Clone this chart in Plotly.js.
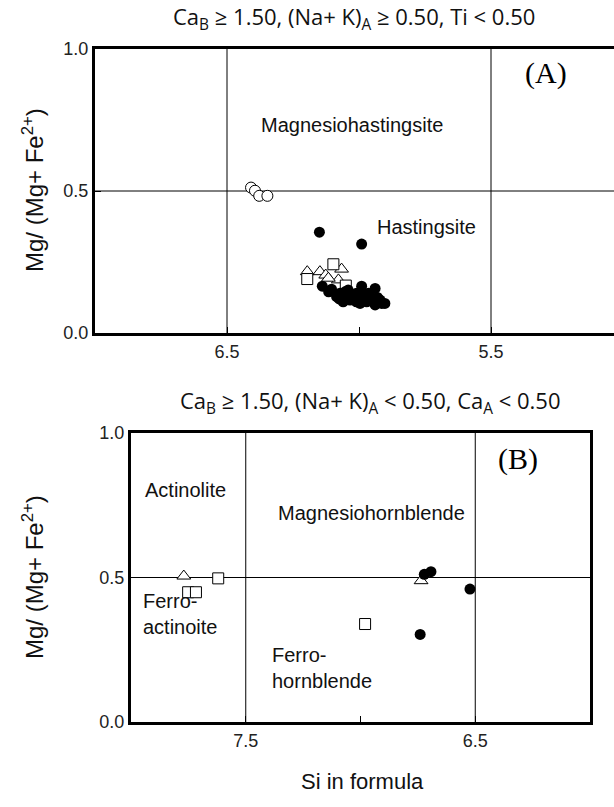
<!DOCTYPE html>
<html>
<head>
<meta charset="utf-8">
<script src="https://cdn.plot.ly/plotly-3.0.1.min.js"></script>
<style>html,body{margin:0;padding:0;background:#fff;}</style>
</head>
<body>
<div id="chart" style="width:614px;height:807px;"></div>
<script>
// Panel A data (Si in formula, Mg/(Mg+Fe2+))
const aOpenCircleSi = [6.409, 6.394, 6.378, 6.347];
const aOpenCircleMg = [0.512, 0.501, 0.483, 0.483];
const aFilledSi = [6.150, 5.990, 6.139, 6.104, 6.072, 6.085, 6.060, 6.041, 6.022, 5.990, 5.984, 5.939, 5.971, 5.939, 5.914, 5.920, 5.996, 6.034, 6.009, 5.958, 5.902, 6.053, 6.115, 6.075, 5.965, 5.945, 6.010, 5.930];
const aFilledMg = [0.355, 0.313, 0.165, 0.154, 0.140, 0.128, 0.110, 0.151, 0.128, 0.165, 0.134, 0.157, 0.110, 0.099, 0.104, 0.116, 0.104, 0.116, 0.140, 0.128, 0.104, 0.145, 0.145, 0.120, 0.140, 0.115, 0.110, 0.125];
const aTriSi = [6.196, 6.148, 6.126, 6.066, 6.078, 6.116];
const aTriMg = [0.216, 0.216, 0.204, 0.225, 0.187, 0.193];
const aSqSi = [6.196, 6.097, 6.050];
const aSqMg = [0.190, 0.242, 0.167];

// Panel B data
const bTriSi = [7.770, 6.736];
const bTriMg = [0.505, 0.489];
const bSqSi = [7.620, 7.751, 7.717, 6.980];
const bSqMg = [0.497, 0.449, 0.449, 0.339];
const bFilledSi = [6.722, 6.693, 6.523, 6.740];
const bFilledMg = [0.511, 0.520, 0.460, 0.303];

// Axis ticks and boundaries
const aTickVals = [6.5, 6.0, 5.5];
const aTickText = ['6.5', '', '5.5'];
const bTickVals = [7.5, 7.0, 6.5];
const bTickText = ['7.5', '', '6.5'];
const yTickVals = [0.0, 0.5, 1.0];
const yTickText = ['0.0', '0.5', '1.0'];
const aSiBounds = [6.5, 5.5];
const bSiBounds = [7.5, 6.5];
const mgBound = 0.5;

const W = 614, H = 807;
const px = v => v / W;
const py = v => 1 - v / H;

const openCircle = {symbol: 'circle', size: 11, color: '#fff', line: {color: '#000', width: 1}};
const filledCircle = {symbol: 'circle', size: 11, color: '#000', line: {color: '#000', width: 0}};
const openTri = {symbol: 'triangle-up', size: 12, color: '#fff', line: {color: '#000', width: 1}};
const openSq = {symbol: 'square', size: 11, color: '#fff', line: {color: '#000', width: 1}};

const traces = [
  {x: aOpenCircleSi, y: aOpenCircleMg, xaxis: 'x', yaxis: 'y', mode: 'markers', type: 'scatter', marker: openCircle},
  {x: aTriSi, y: aTriMg, xaxis: 'x', yaxis: 'y', mode: 'markers', type: 'scatter', marker: openTri},
  {x: aSqSi, y: aSqMg, xaxis: 'x', yaxis: 'y', mode: 'markers', type: 'scatter', marker: openSq},
  {x: aFilledSi, y: aFilledMg, xaxis: 'x', yaxis: 'y', mode: 'markers', type: 'scatter', marker: filledCircle},
  {x: bTriSi, y: bTriMg, xaxis: 'x2', yaxis: 'y2', mode: 'markers', type: 'scatter', marker: openTri},
  {x: bSqSi, y: bSqMg, xaxis: 'x2', yaxis: 'y2', mode: 'markers', type: 'scatter', marker: openSq},
  {x: bFilledSi, y: bFilledMg, xaxis: 'x2', yaxis: 'y2', mode: 'markers', type: 'scatter', marker: filledCircle}
];

const tickFont = {family: 'Liberation Sans, Arial, sans-serif', size: 18, color: '#222'};
const axisCommon = {showgrid: false, zeroline: false, showline: true, linecolor: '#000', linewidth: 3,
  ticks: 'inside', ticklen: 6, tickcolor: '#000', tickwidth: 1, tickfont: tickFont, fixedrange: true};

const shapes = [];
aSiBounds.forEach(v => shapes.push({type: 'line', xref: 'x', yref: 'y domain', x0: v, x1: v, y0: 0, y1: 1, line: {color: '#000', width: 1}, layer: 'below'}));
shapes.push({type: 'line', xref: 'x domain', yref: 'y', x0: 0, x1: 1, y0: mgBound, y1: mgBound, line: {color: '#000', width: 1}, layer: 'below'});
bSiBounds.forEach(v => shapes.push({type: 'line', xref: 'x2', yref: 'y2 domain', x0: v, x1: v, y0: 0, y1: 1, line: {color: '#000', width: 1}, layer: 'below'}));
shapes.push({type: 'line', xref: 'x2 domain', yref: 'y2', x0: 0, x1: 1, y0: mgBound, y1: mgBound, line: {color: '#000', width: 1}, layer: 'below'});

const lab = {family: 'Liberation Sans, Arial, sans-serif', size: 20, color: '#111'};
const ttl = {family: 'Open Sans, sans-serif', size: 22, color: '#111'};
const serif = {family: 'Liberation Serif, Times New Roman, serif', size: 30, color: '#000'};
const axTitle = {family: 'Liberation Sans, Arial, sans-serif', size: 24, color: '#111'};
const xTitle = {family: 'Liberation Sans, Arial, sans-serif', size: 22, color: '#111'};

function ann(text, x, y, font, opts) {
  return Object.assign({text: text, xref: 'paper', yref: 'paper', x: px(x), y: py(y), showarrow: false, font: font, xanchor: 'center', yanchor: 'middle'}, opts || {});
}

const annotations = [
  ann('Ca<sub>B</sub> ≥ 1.50, (Na+ K)<sub>A</sub> ≥ 0.50, Ti &lt; 0.50', 354, 18, ttl),
  ann('Ca<sub>B</sub> ≥ 1.50, (Na+ K)<sub>A</sub> &lt; 0.50, Ca<sub>A</sub> &lt; 0.50', 370, 402, ttl),
  ann('(A)', 546, 73, serif),
  ann('(B)', 518, 459, serif),
  ann('Magnesiohastingsite', 352, 125, lab),
  ann('Hastingsite', 375, 227, lab, {xanchor: 'left'}),
  ann('Actinolite', 143, 490, lab, {xanchor: 'left'}),
  ann('Magnesiohornblende', 371, 513, lab),
  ann('Ferro-<br>actinoite', 141, 614, lab, {xanchor: 'left', align: 'left'}),
  ann('Ferro-<br>hornblende', 270, 668, lab, {xanchor: 'left', align: 'left'}),
  ann('Mg/ (Mg+ Fe<sup>2+</sup>)', 33, 190, axTitle, {textangle: -90}),
  ann('Mg/ (Mg+ Fe<sup>2+</sup>)', 33, 577, axTitle, {textangle: -90}),
  ann('Si in formula', 362, 781, xTitle)
];

const layout = {
  width: W, height: H,
  margin: {l: 0, r: 0, t: 0, b: 0},
  paper_bgcolor: '#fff', plot_bgcolor: '#fff',
  showlegend: false,
  xaxis: Object.assign({}, axisCommon, {domain: [px(95), 1], range: [7.0, 7.0 - (614 - 95) / 264], anchor: 'y', mirror: true, tickvals: aTickVals, ticktext: aTickText}),
  yaxis: Object.assign({}, axisCommon, {domain: [py(333), py(49)], range: [0, 1], anchor: 'x', mirror: false, tickvals: yTickVals, ticktext: yTickText}),
  xaxis2: Object.assign({}, axisCommon, {domain: [px(131), px(590)], range: [8.0, 6.0], anchor: 'y2', mirror: true, tickvals: bTickVals, ticktext: bTickText}),
  yaxis2: Object.assign({}, axisCommon, {domain: [py(722), py(433)], range: [0, 1], anchor: 'x2', mirror: true, tickvals: yTickVals, ticktext: yTickText}),
  shapes: shapes,
  annotations: annotations
};

Plotly.newPlot('chart', traces, layout, {displayModeBar: false, staticPlot: true});
</script>
</body>
</html>
